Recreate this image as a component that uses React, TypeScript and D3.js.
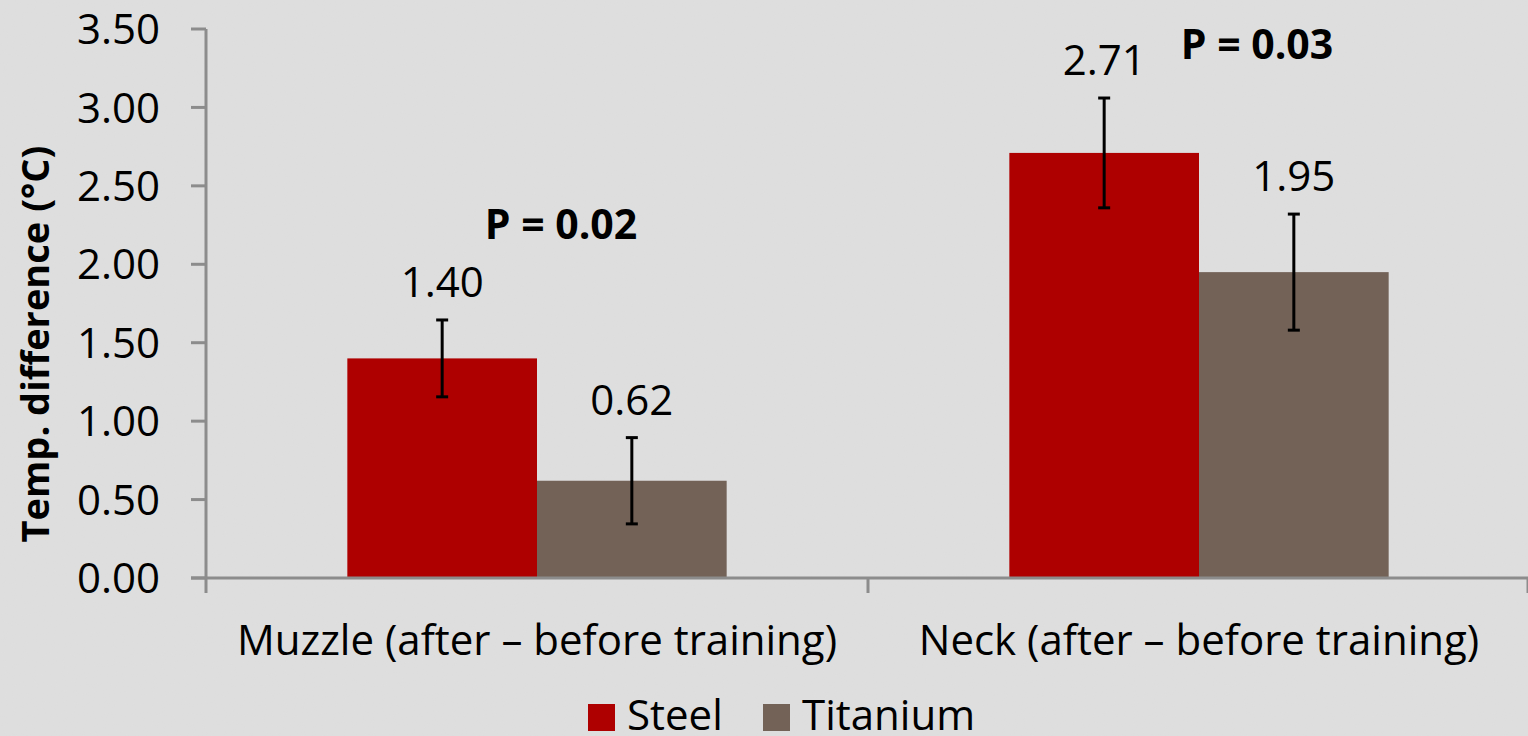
import React from "react";
import * as d3 from "d3";

const categories = ["Muzzle (after – before training)", "Neck (after – before training)"];
const seriesNames = ["Steel", "Titanium"];
const steelValues = [1.40, 2.71];
const titaniumValues = [0.62, 1.95];
const steelErrors = [0.245, 0.35];
const titaniumErrors = [0.275, 0.37];
const pLabels = ["P = 0.02", "P = 0.03"];
const pValuesY = [2.16, 3.31];
const yTicks = [0, 0.5, 1, 1.5, 2, 2.5, 3, 3.5];
const colors = ["#ae0000", "#736257"];

const W = 1528;
const H = 736;
const FONT = "'Open Sans', 'Noto Sans', sans-serif";
const P_OFFSETS = [24, 58];

export default function App() {
  const x0 = d3.scaleBand<string>().domain(categories).range([206, 1530]).padding(0);
  const x1 = d3.scaleBand<string>().domain(seriesNames).range([0, x0.bandwidth() * 0.573]).padding(0);
  const y = d3.scaleLinear().domain([0, 3.5]).range([578, 29]);
  const groupOffset = (x0.bandwidth() - x1.range()[1]) / 2;

  const series = [
    { name: seriesNames[0], values: steelValues, errors: steelErrors, color: colors[0] },
    { name: seriesNames[1], values: titaniumValues, errors: titaniumErrors, color: colors[1] },
  ];

  return (
    <svg width={W} height={H} style={{ position: "absolute", left: 0, top: 0 }} fontFamily={FONT}>
      <defs>
        <filter id="noise" x="0" y="0" width="100%" height="100%">
          <feTurbulence type="fractalNoise" baseFrequency="0.9" numOctaves="2" seed="3" result="t" />
          <feColorMatrix type="matrix" values="0 0 0 0 0.5  0 0 0 0 0.5  0 0 0 0 0.5  0 0 0 0.06 0" />
        </filter>
      </defs>
      <rect x={0} y={0} width={W} height={H} fill="#dfdfdf" />
      <rect x={0} y={0} width={W} height={H} filter="url(#noise)" />

      {/* y axis */}
      <line x1={206} x2={206} y1={y(3.5)} y2={y(0)} stroke="#8c8c8c" strokeWidth={3} />
      {yTicks.map((t) => (
        <g key={t}>
          <line x1={191} x2={206} y1={y(t)} y2={y(t)} stroke="#8c8c8c" strokeWidth={3} />
          <text x={160} y={y(t)} dy="0.36em" textAnchor="end" fontSize={42} fill="#000">
            {t.toFixed(2)}
          </text>
        </g>
      ))}

      {/* bars */}
      {series.map((s) =>
        categories.map((c, i) => {
          const bx = (x0(c) as number) + groupOffset + (x1(s.name) as number);
          const bw = x1.bandwidth();
          return (
            <rect key={s.name + c} x={bx} y={y(s.values[i])} width={bw} height={y(0) - y(s.values[i])} fill={s.color} />
          );
        })
      )}

      {/* x axis */}
      <line x1={191} x2={1530} y1={y(0)} y2={y(0)} stroke="#8c8c8c" strokeWidth={3} />
      {[...categories.map((c) => x0(c) as number), 1528].map((t, i) => (
        <line key={i} x1={t} x2={t} y1={y(0)} y2={y(0) + 15} stroke="#8c8c8c" strokeWidth={3} />
      ))}

      {/* error bars and labels */}
      {series.map((s) =>
        categories.map((c, i) => {
          const bx = (x0(c) as number) + groupOffset + (x1(s.name) as number);
          const bw = x1.bandwidth();
          const cx = bx + bw / 2;
          const top = y(s.values[i] + s.errors[i]);
          const bot = y(s.values[i] - s.errors[i]);
          return (
            <g key={"e" + s.name + c}>
              <line x1={cx} x2={cx} y1={top} y2={bot} stroke="#000" strokeWidth={3} />
              <line x1={cx - 6} x2={cx + 6} y1={top} y2={top} stroke="#000" strokeWidth={3} />
              <line x1={cx - 6} x2={cx + 6} y1={bot} y2={bot} stroke="#000" strokeWidth={3} />
              <text x={cx} y={top - 23} textAnchor="middle" fontSize={42} fill="#000">
                {s.values[i].toFixed(2)}
              </text>
            </g>
          );
        })
      )}

      {/* P labels */}
      {categories.map((c, i) => (
        <text key={"p" + c} x={(x0(c) as number) + x0.bandwidth() / 2 + P_OFFSETS[i]}
          y={y(pValuesY[i])} textAnchor="middle" fontSize={41} fontWeight="bold" fill="#000">
          {pLabels[i]}
        </text>
      ))}

      {/* category labels */}
      {categories.map((c) => (
        <text key={"c" + c} x={(x0(c) as number) + x0.bandwidth() / 2} y={655} textAnchor="middle" fontSize={42} fill="#000">
          {c}
        </text>
      ))}

      {/* y axis title */}
      <text transform="translate(49,344) rotate(-90)" textAnchor="middle" fontSize={38} fontWeight="bold" fill="#000">
        Temp. difference (°C)
      </text>

      {/* legend */}
      <rect x={588} y={704} width={27} height={27} fill={colors[0]} />
      <text x={627} y={730} fontSize={42} fill="#000">{seriesNames[0]}</text>
      <rect x={763} y={704} width={27} height={27} fill={colors[1]} />
      <text x={802} y={730} fontSize={42} fill="#000">{seriesNames[1]}</text>
    </svg>
  );
}
